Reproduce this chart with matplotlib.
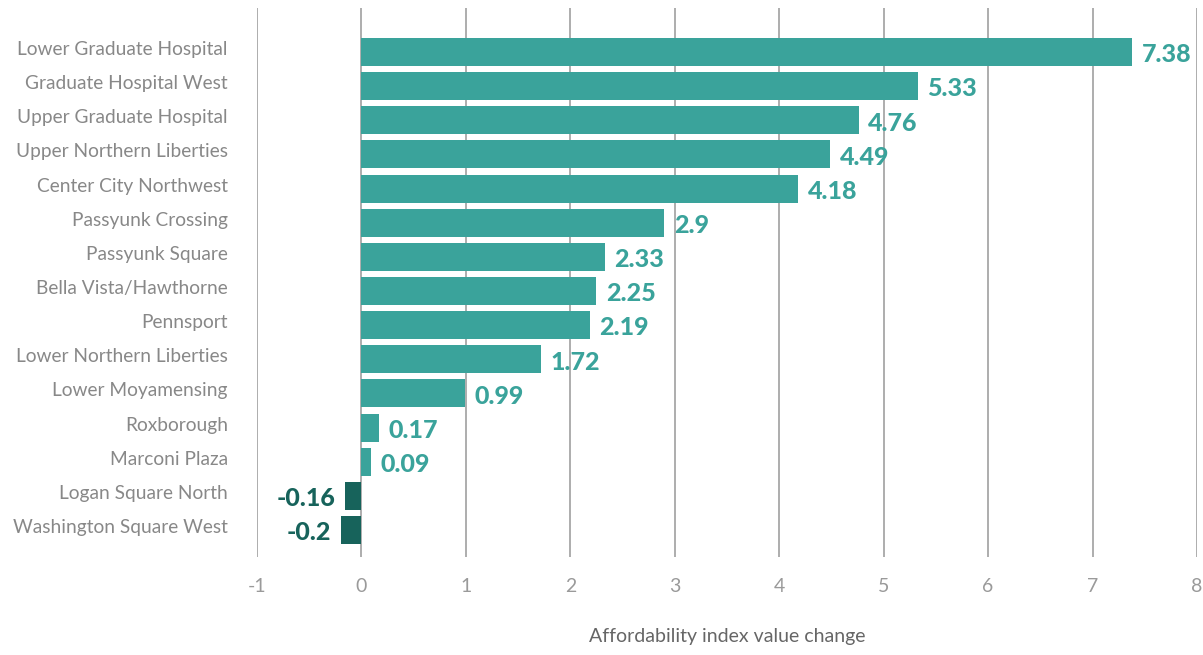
import matplotlib.pyplot as plt
import matplotlib.transforms as mtransforms

# Daten
neighborhoods = [
    "Lower Graduate Hospital", "Graduate Hospital West", "Upper Graduate Hospital",
    "Upper Northern Liberties", "Center City Northwest", "Passyunk Crossing",
    "Passyunk Square", "Bella Vista/Hawthorne", "Pennsport", "Lower Northern Liberties",
    "Lower Moyamensing", "Roxborough", "Marconi Plaza", "Logan Square North",
    "Washington Square West",
]
values = [7.38, 5.33, 4.76, 4.49, 4.18, 2.9, 2.33, 2.25, 2.19, 1.72, 0.99, 0.17, 0.09, -0.16, -0.2]
value_labels = ["7.38", "5.33", "4.76", "4.49", "4.18", "2.9", "2.33", "2.25", "2.19",
                "1.72", "0.99", "0.17", "0.09", "-0.16", "-0.2"]
x_ticks = [-1, 0, 1, 2, 3, 4, 5, 6, 7, 8]

teal = "#3aa39b"
dark_teal = "#17635b"

plt.rcParams['font.family'] = ['Lato', 'DejaVu Sans']

fig = plt.figure(figsize=(12.03, 6.55), dpi=100)
ax = fig.add_axes([257 / 1203, (655 - 557) / 655, 940 / 1203, 549 / 655])

y = list(range(len(values)))
colors = [teal if v >= 0 else dark_teal for v in values]

# Gitterlinien hinter den Balken
for t in x_ticks:
    ax.axvline(t, color="#a0a0a0", lw=1.2, zorder=0)

ax.barh(y, values, height=0.82, color=colors, zorder=2)

for yi, v, lab, c in zip(y, values, value_labels, colors):
    if v >= 0:
        ax.text(v + 0.09, yi + 0.08, lab, va="center", ha="left", color=c,
                fontsize=18, fontweight="black")
    else:
        ax.text(v - 0.09, yi + 0.08, lab, va="center", ha="right", color=c,
                fontsize=18, fontweight="black")

ax.set_xlim(-1, 8)
ax.set_ylim(len(values) - 1 + 0.79, -1.29)
ax.set_xticks(x_ticks)
ax.set_xticklabels([str(t) for t in x_ticks], color="#9a9a9a", fontsize=14)
ax.set_yticks(y)
ax.set_yticklabels(neighborhoods, color="#888888", fontsize=13.8)
ax.tick_params(axis="both", length=0)
ax.tick_params(axis="x", pad=15)
ax.tick_params(axis="y", pad=21)
for s in ax.spines.values():
    s.set_visible(False)

# Beschriftungen etwas nach oben verschieben
shift = mtransforms.ScaledTranslation(0, 4 / 100, fig.dpi_scale_trans)
for lbl in ax.get_yticklabels():
    lbl.set_transform(lbl.get_transform() + shift)

ax.set_xlabel("Affordability index value change", color="#666666", fontsize=14, labelpad=24)

fig.savefig("out.png", dpi=100)
